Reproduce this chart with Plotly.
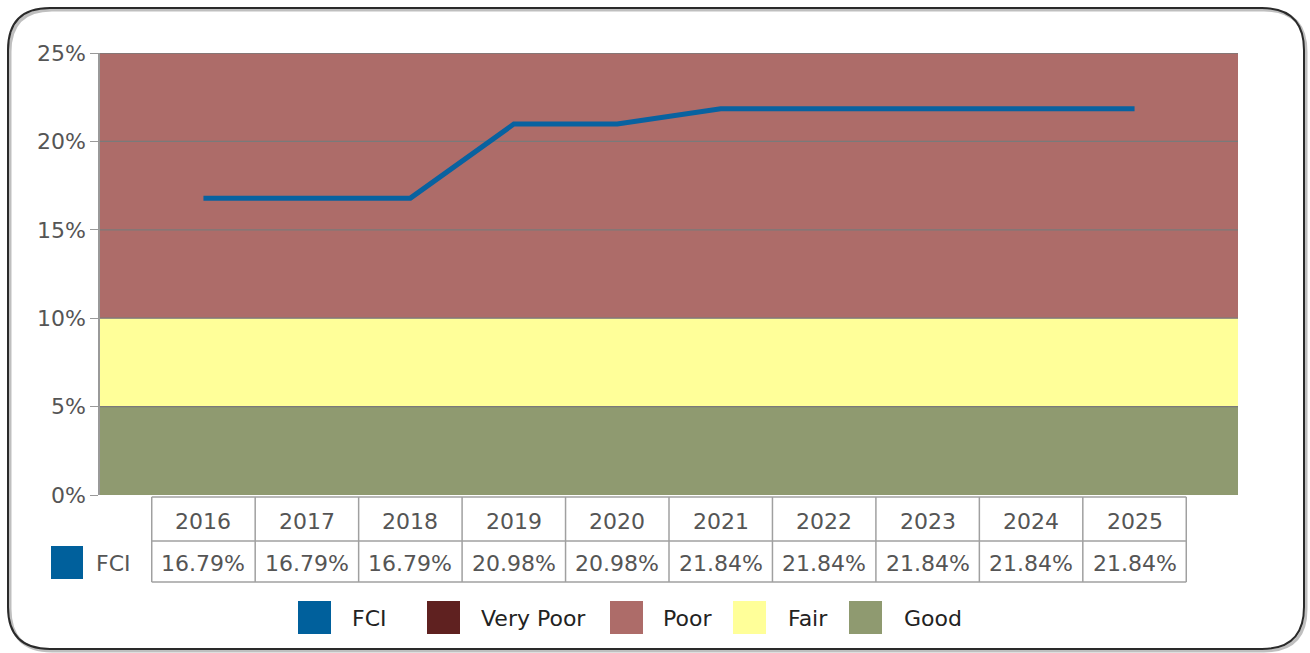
import plotly.graph_objects as go

years = ["2016", "2017", "2018", "2019", "2020", "2021", "2022", "2023", "2024", "2025"]
fci = [16.79, 16.79, 16.79, 20.98, 20.98, 21.84, 21.84, 21.84, 21.84, 21.84]

band_names = ["Good", "Fair", "Poor"]
band_low = [0, 5, 10]
band_high = [5, 10, 25]
band_colors = ["#8F9A70", "#FFFF99", "#AD6C69"]

tick_values = [0, 5, 10, 15, 20, 25]

legend_names = ["FCI", "Very Poor", "Poor", "Fair", "Good"]
legend_colors = ["#00609C", "#5F2120", "#AD6C69", "#FFFF99", "#8F9A70"]

W, H = 1310, 653
L, R, T, B = 100, 72, 53, 158
PW, PH = W - L - R, H - T - B
FONT = "Verdana, DejaVu Sans, sans-serif"
FS = 22


def fx(px):
    return (px - L) / PW


def fy(py):
    return (H - B - py) / PH


fig = go.Figure()
fig.add_trace(go.Scatter(x=years, y=fci, mode="lines", name="FCI",
                         line=dict(color="#0862A0", width=5), showlegend=False,
                         hoverinfo="x+y"))

shapes = []
# bands
for lo, hi, c in zip(band_low, band_high, band_colors):
    shapes.append(dict(type="rect", xref="paper", yref="y", x0=0, x1=1, y0=lo, y1=hi,
                       fillcolor=c, line=dict(width=0), layer="below"))
# gridlines on top of bands
for tv in tick_values[1:]:
    shapes.append(dict(type="line", xref="paper", yref="y", x0=0, x1=1, y0=tv, y1=tv,
                       line=dict(color="#7A7A7A", width=1.3), layer="below"))

# table
n = len(years)
tab_top, tab_mid, tab_bot = fy(497), fy(541), fy(582)
grid_line = dict(color="#A0A0A0", width=1.5)
for i in range(n + 1):
    shapes.append(dict(type="line", xref="x", yref="paper", x0=i - 0.5, x1=i - 0.5,
                       y0=tab_top, y1=tab_bot, line=grid_line))
for yy in (tab_top, tab_mid, tab_bot):
    shapes.append(dict(type="line", xref="x", yref="paper", x0=-0.5, x1=n - 0.5,
                       y0=yy, y1=yy, line=grid_line))

annotations = []
for i, (yr, v) in enumerate(zip(years, fci)):
    annotations.append(dict(x=i, y=fy(521), xref="x", yref="paper", text=yr,
                            xanchor="center", yanchor="middle", showarrow=False,
                            font=dict(size=FS, color="#555555", family=FONT)))
    annotations.append(dict(x=i, y=fy(563), xref="x", yref="paper", text=f"{v:.2f}%",
                            xanchor="center", yanchor="middle", showarrow=False,
                            font=dict(size=FS, color="#555555", family=FONT)))

# table row header
shapes.append(dict(type="rect", xref="paper", yref="paper", x0=fx(51), x1=fx(83),
                   y0=fy(579), y1=fy(546), fillcolor=legend_colors[0], line=dict(width=0)))
annotations.append(dict(x=fx(94), y=fy(563), xref="paper", yref="paper", text="FCI",
                        xanchor="left", yanchor="middle", showarrow=False,
                        font=dict(size=FS, color="#555555", family=FONT)))

# legend
sq_x = [298, 427, 610, 733, 849]
tx_x = [350, 479, 661, 786, 902]
for name, c, sx, tx in zip(legend_names, legend_colors, sq_x, tx_x):
    shapes.append(dict(type="rect", xref="paper", yref="paper", x0=fx(sx), x1=fx(sx + 33),
                       y0=fy(634), y1=fy(601), fillcolor=c, line=dict(width=0)))
    annotations.append(dict(x=fx(tx), y=fy(618), xref="paper", yref="paper", text=name,
                            xanchor="left", yanchor="middle", showarrow=False,
                            font=dict(size=FS, color="#222222", family=FONT)))


# rounded border
def rounded(x0, y0, x1, y1, r):
    X0, X1 = fx(x0), fx(x1)
    Y0, Y1 = fy(y0), fy(y1)
    rx, ry = r / PW, r / PH
    return (f"M {X0 + rx},{Y0} L {X1 - rx},{Y0} Q {X1},{Y0} {X1},{Y0 - ry} "
            f"L {X1},{Y1 + ry} Q {X1},{Y1} {X1 - rx},{Y1} "
            f"L {X0 + rx},{Y1} Q {X0},{Y1} {X0},{Y1 + ry} "
            f"L {X0},{Y0 - ry} Q {X0},{Y0} {X0 + rx},{Y0} Z")


shapes.append(dict(type="path", xref="paper", yref="paper", path=rounded(10, 10, 1306, 651, 42),
                   line=dict(color="rgba(0,0,0,0.25)", width=3), layer="below"))
shapes.append(dict(type="path", xref="paper", yref="paper", path=rounded(8, 8, 1304, 649, 42),
                   line=dict(color="#2A2A2A", width=2), layer="below"))

fig.update_layout(
    width=W, height=H,
    margin=dict(l=L, r=R, t=T, b=B),
    paper_bgcolor="white", plot_bgcolor="white",
    font=dict(family=FONT, size=FS, color="#555555"),
    showlegend=False,
    shapes=shapes, annotations=annotations,
    xaxis=dict(type="category", range=[-1, n], showticklabels=False, showgrid=False,
               zeroline=False, showline=False, ticks="", fixedrange=True),
    yaxis=dict(range=[0, 25], tickmode="array", tickvals=tick_values,
               ticktext=[f"{v}%" for v in tick_values], showgrid=False,
               showline=True, linecolor="#999999", linewidth=1.5,
               ticks="outside", ticklen=8, tickcolor="#999999", zeroline=False,
               tickfont=dict(size=FS, color="#555555", family=FONT), fixedrange=True),
)

fig.write_html("out.html", config={"displayModeBar": False},
               post_script="document.body.style.margin='0px';")
